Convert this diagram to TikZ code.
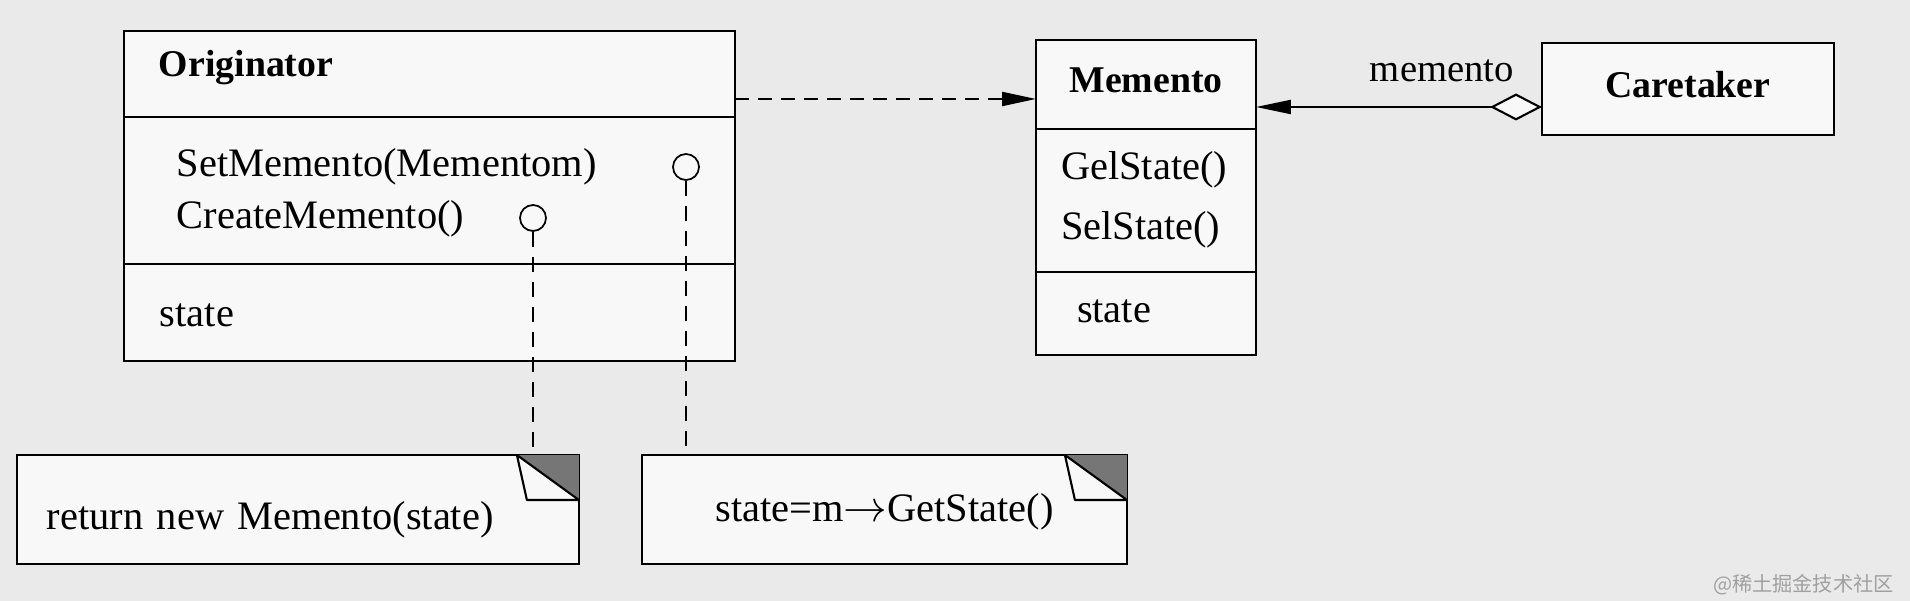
\documentclass[tikz,border=0pt]{standalone}
\usepackage{fontspec}
\setmainfont{Liberation Serif}
\newfontfamily\cjkfont{Noto Sans CJK SC}
\usetikzlibrary{arrows.meta, positioning}
\definecolor{PaperGray}{RGB}{234,234,234}
\definecolor{SheetWhite}{RGB}{248,248,248}
\definecolor{FoldGray}{RGB}{118,118,118}
\definecolor{MarkGray}{RGB}{160,160,160}
\tikzset{
    classpart/.style={draw, line width=1.3pt, fill=SheetWhite, outer sep=0pt, inner ysep=0pt, align=left, font=\fontsize{23}{29.6}\selectfont},
    classhead/.style={classpart, font=\fontsize{21.5}{26}\selectfont\bfseries},
    notebox/.style={draw, line width=1.3pt, fill=SheetWhite, outer sep=0pt, inner ysep=0pt, font=\fontsize{23}{28}\selectfont},
    lolly/.style={circle, draw, line width=1pt, fill=SheetWhite, minimum size=0.52cm, inner sep=0pt},
    dep/.style={line width=1.2pt, dash pattern=on 0.28cm off 0.18cm, -{Triangle[length=0.68cm, width=0.28cm]}},
    link/.style={line width=1.2pt, dash pattern=on 0.3cm off 0.2cm},
    assoc/.style={line width=1.2pt, {Triangle[length=0.7cm, width=0.28cm]}-{Diamond[length=1.04cm, width=0.54cm, fill=SheetWhite]}}
}

\begin{document}
\begin{tikzpicture}[x=0.02cm, y=-0.02cm]
    \useasboundingbox (0,0) rectangle (1910,601);
    \fill[PaperGray] (0,0) rectangle (1910,601);

    % Originator class
    \node[classhead, anchor=north west, text width=10.82cm, inner xsep=0.7cm, text height=0.92cm, text depth=0.8cm] (orighead) at (124,31) {Originator};
    \node[classpart, below=0pt of orighead, text width=10.1cm, inner xsep=1.06cm, text height=1.2cm, text depth=1.74cm] (origops) {SetMemento(Mementom)\\CreateMemento()};
    \node[classpart, below=0pt of origops, text width=10.78cm, inner xsep=0.72cm, text height=1.26cm, text depth=0.68cm] (origattr) {state};

    % Memento class
    \node[classhead, anchor=north west, text width=3.8cm, inner xsep=0.3cm, align=center, text height=1.06cm, text depth=0.72cm] (memhead) at (1036,40) {Memento};
    \node[classpart, below=0pt of memhead, text width=3.4cm, inner xsep=0.5cm, text height=1.02cm, text depth=1.84cm, font=\fontsize{23}{34.1}\selectfont] (memops) {GelState()\\SelState()};
    \node[classpart, below=0pt of memops, text width=2.76cm, inner xsep=0.82cm, text height=1.02cm, text depth=0.64cm] (memattr) {state};

    % Caretaker class
    \node[classhead, anchor=north west, minimum width=5.84cm, inner xsep=0.3cm, text height=1.1cm, text depth=0.74cm] (keeper) at (1542,43) {Caretaker};

    % Notes
    \node[notebox, anchor=north west, text width=10.04cm, inner xsep=0.6cm, align=left, text height=1.5cm, text depth=0.68cm] (retnote) at (17,455) {return new Memento(state)};
    \node[notebox, anchor=north west, minimum width=9.7cm, text height=1.34cm, text depth=0.84cm] (setnote) at (642,455) {state=m$\rightarrow$GetState()};
    \foreach \n in {retnote, setnote} {
        \fill[FoldGray] ([xshift=-1.24cm]\n.north east) -- (\n.north east) -- ([yshift=-0.9cm]\n.north east) -- cycle;
        \draw[line width=1.2pt, line join=round] ([xshift=-1.24cm]\n.north east) -- ([xshift=-1.04cm, yshift=-0.9cm]\n.north east) -- ([yshift=-0.9cm]\n.north east) -- cycle;
    }

    % Connections
    \coordinate (origport) at ([yshift=-0.5cm]orighead.east);
    \draw[dep] (origport) -- (origport -| memhead.west);
    \coordinate (keeperport) at ([yshift=-0.36cm]keeper.west);
    \draw[assoc] (memhead.east |- keeperport) -- (keeperport) node[pos=0.65, anchor=base, yshift=0.5cm, font=\fontsize{22}{26}\selectfont] (rolename) {memento};

    \node[lolly] (createdot) at (533,218) {};
    \node[lolly] (setdot) at (686,167) {};
    \draw[link] (createdot.south) -- (createdot.south |- retnote.north);
    \draw[link] (setdot.south) -- (setdot.south |- setnote.north);

    \node[anchor=east, text=MarkGray, font=\cjkfont\fontsize{11.5}{14}\selectfont] (mark) at (1900,585) {@稀土掘金技术社区};
\end{tikzpicture}
\end{document}
